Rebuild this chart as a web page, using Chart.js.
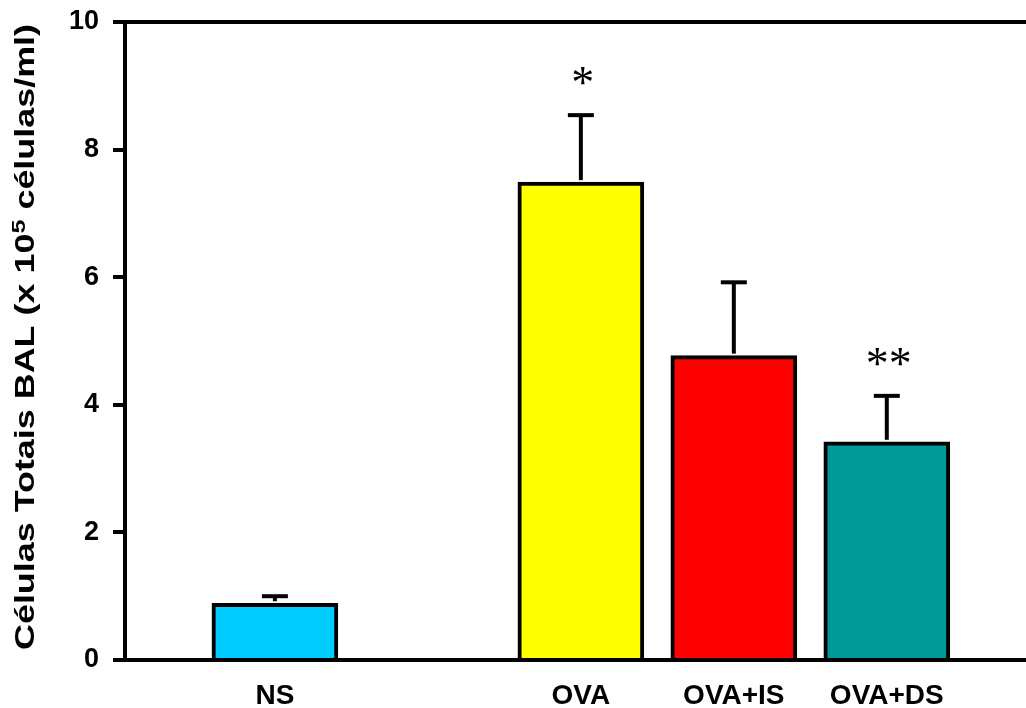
<!DOCTYPE html>
<html><head><meta charset="utf-8">
<script src="https://cdn.jsdelivr.net/npm/chart.js@4/dist/chart.umd.min.js"></script>
<style>html,body{margin:0;padding:0;background:#fff;}</style>
</head><body>
<canvas id="c" width="1026" height="708"></canvas>
<script>
// ---- data ----
const categories = ['NS', 'OVA', 'OVA+IS', 'OVA+DS'];
const slots = [1, 3, 4, 5];            // category slot on the x axis (slot 2 left empty)
const means = [0.89, 7.49, 4.77, 3.42];
const errors = [0.11, 1.05, 1.15, 0.72];
const significance = ['', '*', '', '**'];
const barColors = ['#00CCFF', '#FFFF00', '#FF0000', '#009999'];
const yTicks = [0, 2, 4, 6, 8, 10];
const yTitleParts = ['Células Totais BAL (x 10', '5', ' células/ml)'];

const SANS = '"Liberation Sans", Arial, sans-serif';

const errorBarPlugin = {
  id: 'errbars',
  afterDatasetsDraw(chart) {
    const { ctx, scales: { x, y } } = chart;
    ctx.save();
    ctx.strokeStyle = '#000';
    ctx.lineWidth = 4;
    ctx.lineCap = 'butt';
    means.forEach((m, i) => {
      const px = x.getPixelForValue(slots[i]);
      const top = y.getPixelForValue(m);
      const et = y.getPixelForValue(m + errors[i]);
      ctx.beginPath(); ctx.moveTo(px, top - 2); ctx.lineTo(px, et); ctx.stroke();
      ctx.beginPath(); ctx.moveTo(px - 13, et); ctx.lineTo(px + 13, et); ctx.stroke();
      if (significance[i]) {
        ctx.font = '46px "Liberation Serif", "Times New Roman", serif';
        ctx.fillStyle = '#000';
        ctx.textAlign = 'center';
        ctx.textBaseline = 'alphabetic';
        const mt = ctx.measureText(significance[i]);
        const cy = et - 39;
        const base = cy + (mt.actualBoundingBoxAscent - mt.actualBoundingBoxDescent) / 2;
        ctx.fillText(significance[i], px + 2, base);
      }
    });
    ctx.restore();
  }
};

// y-axis title with a true superscript, drawn along the left edge
const yTitlePlugin = {
  id: 'ytitle',
  afterDraw(chart) {
    const { ctx, chartArea } = chart;
    const big = 'bold 27px ' + SANS, small = 'bold 19px ' + SANS;
    ctx.save();
    ctx.font = big;
    const w0 = ctx.measureText(yTitleParts[0]).width;
    const w2 = ctx.measureText(yTitleParts[2]).width;
    ctx.font = small;
    const w1 = ctx.measureText(yTitleParts[1]).width;
    const total = w0 + w1 + w2;
    const stretch = 1.33;
    const cy = (chartArea.top + chartArea.bottom) / 2 - 4;
    ctx.translate(34, cy);
    ctx.rotate(-Math.PI / 2);
    ctx.scale(stretch, 1);
    ctx.fillStyle = '#000';
    ctx.textAlign = 'left';
    ctx.textBaseline = 'alphabetic';
    let xx = -total / 2;
    ctx.font = big; ctx.fillText(yTitleParts[0], xx, 0); xx += w0;
    ctx.font = small; ctx.fillText(yTitleParts[1], xx, -9); xx += w1;
    ctx.font = big; ctx.fillText(yTitleParts[2], xx, 0);
    ctx.restore();
  }
};

new Chart(document.getElementById('c'), {
  type: 'bar',
  data: {
    datasets: [{
      data: slots.map((s, i) => ({ x: s, y: means[i] })),
      backgroundColor: barColors,
      borderColor: '#000',
      borderWidth: 4,
      borderSkipped: 'start',
      barThickness: 126
    }]
  },
  options: {
    responsive: false,
    animation: false,
    devicePixelRatio: 1,
    layout: { padding: { top: 22, right: 0, left: 0, bottom: 0 } },
    plugins: { legend: { display: false }, tooltip: { enabled: false } },
    scales: {
      x: {
        type: 'linear',
        offset: false,
        min: 0.02,
        max: 5.91,
        afterFit: s => { s.height = 48; s.paddingLeft = 0; s.paddingRight = 0; },
        afterBuildTicks: s => { s.ticks = slots.map(v => ({ value: v })); },
        grid: { display: true, drawOnChartArea: false, drawTicks: false },
        border: { display: true, color: '#000', width: 4 },
        ticks: {
          padding: 19,
          color: '#000',
          font: { family: SANS, size: 28, weight: 'bold' },
          callback: v => categories[slots.indexOf(v)] ?? ''
        }
      },
      y: {
        min: 0,
        max: 10,
        afterFit: s => { s.width = 125; s.paddingTop = 0; s.paddingBottom = 0; },
        afterBuildTicks: s => { s.ticks = yTicks.map(v => ({ value: v })); },
        grid: {
          drawOnChartArea: true,
          color: c => (c.tick && c.tick.value === 10) ? '#000' : 'rgba(0,0,0,0)',
          tickColor: '#000',
          lineWidth: 4,
          tickWidth: 4,
          tickLength: 12
        },
        border: { display: true, color: '#000', width: 4 },
        ticks: {
          padding: 14,
          color: '#000',
          font: { family: SANS, size: 27, weight: 'bold' }
        },
        title: { display: false }
      }
    }
  },
  plugins: [errorBarPlugin, yTitlePlugin]
});
</script>
</body></html>
